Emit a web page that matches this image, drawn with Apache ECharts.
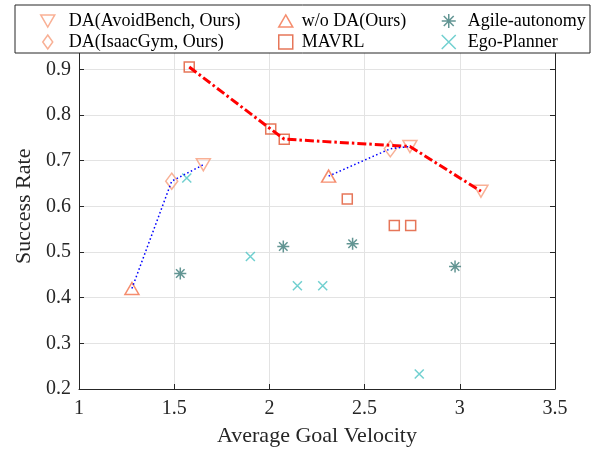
<!DOCTYPE html>
<html><head><meta charset="utf-8">
<script src="https://cdn.jsdelivr.net/npm/echarts@6/dist/echarts.min.js"></script>
<style>html,body{margin:0;padding:0;background:#fff}#c{width:595px;height:452px}</style>
</head><body><div id="c"></div>
<script>
// ---- data ----
const xTickLabels = ['1', '1.5', '2', '2.5', '3', '3.5'];
const yTickLabels = ['0.2', '0.3', '0.4', '0.5', '0.6', '0.7', '0.8', '0.9', '1'];
const seriesNames = ['DA(AvoidBench, Ours)', 'DA(IsaacGym, Ours)', 'w/o DA(Ours)', 'MAVRL', 'Agile-autonomy', 'Ego-Planner'];
const daAvoidBench = [[1.653, 0.691], [2.738, 0.731], [3.111, 0.633]];
const daIsaacGym = [[1.487, 0.655], [2.635, 0.726]];
const woDA = [[1.278, 0.420], [2.311, 0.666]];
const mavrl = [[1.579, 0.905], [2.007, 0.769], [2.078, 0.747], [2.409, 0.616], [2.656, 0.558], [2.742, 0.558]];
const agile = [[1.532, 0.453], [2.073, 0.512], [2.437, 0.518], [2.975, 0.468]];
const ego = [[1.566, 0.662], [1.900, 0.490], [2.147, 0.426], [2.280, 0.426], [2.787, 0.233]];
const frontierRed = [[1.579, 0.905], [2.007, 0.769], [2.078, 0.747], [2.738, 0.731], [3.111, 0.633]];
const linkBlue1 = [[1.278, 0.420], [1.487, 0.655], [1.653, 0.691]];
const linkBlue2 = [[2.311, 0.666], [2.635, 0.726], [2.738, 0.731]];

// ---- chart ----
const FONT = "'Liberation Serif', 'DejaVu Serif', serif";
const AX = '#262626';
const xMin = +xTickLabels[0], xMax = +xTickLabels[xTickLabels.length - 1];
const yMin = +yTickLabels[0], yMax = +yTickLabels[yTickLabels.length - 1];

const INVTRI = 'path://M0,0L12,0L6,10.4Z';
const TRI = 'path://M6,0L12,10.4L0,10.4Z';
const DIAM = 'path://M5,0L10,7L5,14L0,7Z';
const ASTER = 'path://M5,0L5,10M0,5L10,5M1.46,1.46L8.54,8.54M8.54,1.46L1.46,8.54';
const CROSS = 'path://M0,0L10,10M10,0L0,10';

function hollow(color, bw) {
  return { color: 'rgba(0,0,0,0)', borderColor: color, borderWidth: bw || 1.5 };
}

const scatterDefs = [
  { name: seriesNames[0], data: daAvoidBench, symbol: INVTRI, size: [14, 12], color: '#f89c7a' },
  { name: seriesNames[1], data: daIsaacGym, symbol: DIAM, size: [12, 16], color: '#f69c7a' },
  { name: seriesNames[2], data: woDA, symbol: TRI, size: [14, 12], color: '#f3714a' },
  { name: seriesNames[3], data: mavrl, symbol: 'rect', size: 10, color: '#e0542f' },
  { name: seriesNames[4], data: agile, symbol: ASTER, size: 12, color: '#3b7a78' },
  { name: seriesNames[5], data: ego, symbol: CROSS, size: 9, color: '#4dc4c4' }
];

const series = [];
scatterDefs.forEach(d => {
  series.push({
    type: 'scatter', name: d.name, data: d.data,
    symbol: d.symbol, symbolSize: d.size, symbolKeepAspect: false,
    itemStyle: hollow(d.color, 1.5), z: 3, silent: true
  });
});
series.push({ type: 'line', name: 'frontier', data: frontierRed, symbol: 'none', z: 4, silent: true,
  lineStyle: { color: '#ff0000', width: 3, type: [9, 3, 2.5, 3] } });
series.push({ type: 'line', name: 'link1', data: linkBlue1, symbol: 'none', z: 4, silent: true,
  lineStyle: { color: '#0000ff', width: 1.5, type: [1.5, 2.5] } });
series.push({ type: 'line', name: 'link2', data: linkBlue2, symbol: 'none', z: 4, silent: true,
  lineStyle: { color: '#0000ff', width: 1.5, type: [1.5, 2.5] } });

function legendCol(names, left, padLeft) {
  return {
    orient: 'vertical', left: left, top: 7, itemWidth: 14, itemHeight: 14, itemGap: 3,
    z: 11, selectedMode: false, data: names, symbolKeepAspect: true,
    itemStyle: { borderWidth: 1.5 },
    textStyle: { fontFamily: FONT, fontSize: 18, color: '#000', padding: [0, 0, 0, padLeft] }
  };
}

const chart = echarts.init(document.getElementById('c'), null, { renderer: 'canvas' });
chart.setOption({
  animation: false,
  backgroundColor: '#fff',
  grid: { left: 79, right: 40, top: 23.6, bottom: 62, containLabel: false },
  graphic: [{
    type: 'rect', z: 10, shape: { x: 15, y: 5, width: 575, height: 48 },
    style: { fill: '#fff', stroke: AX, lineWidth: 1 }
  }],
  legend: [
    legendCol([seriesNames[0], seriesNames[1]], 35, 9),
    legendCol([seriesNames[2], seriesNames[3]], 273, 4),
    legendCol([seriesNames[4], seriesNames[5]], 436, 7)
  ],
  xAxis: [{
    type: 'value', min: xMin, max: xMax, interval: 0.5,
    name: 'Average Goal Velocity', nameLocation: 'middle', nameGap: 36,
    nameTextStyle: { fontFamily: FONT, fontSize: 22, color: AX },
    axisLine: { show: true, lineStyle: { color: AX, width: 1 } },
    axisTick: { show: true, inside: true, length: 5, lineStyle: { color: AX } },
    axisLabel: { fontFamily: FONT, fontSize: 20, color: AX, margin: 10,
      formatter: v => { const s = xTickLabels.find(t => Math.abs(+t - v) < 1e-6); return s || ''; } },
    splitLine: { show: true, lineStyle: { color: '#e3e3e3', width: 1 } }
  }],
  yAxis: [{
    type: 'value', min: yMin, max: yMax, interval: 0.1,
    name: 'Success Rate', nameLocation: 'middle', nameGap: 38,
    nameTextStyle: { fontFamily: FONT, fontSize: 22, color: AX },
    axisLine: { show: true, lineStyle: { color: AX, width: 1 } },
    axisTick: { show: true, inside: true, length: 5, lineStyle: { color: AX } },
    axisLabel: { fontFamily: FONT, fontSize: 20, color: AX, margin: 8,
      formatter: v => { const s = yTickLabels.find(t => Math.abs(+t - v) < 1e-6); return s || ''; } },
    splitLine: { show: true, lineStyle: { color: '#e3e3e3', width: 1 } }
  }, {
    type: 'value', position: 'right', min: yMin, max: yMax, interval: 0.1,
    axisLine: { show: true, onZero: false, lineStyle: { color: AX, width: 1 } },
    axisTick: { show: true, inside: true, length: 5, lineStyle: { color: AX } },
    axisLabel: { show: false }, splitLine: { show: false }
  }],
  series: series
});
</script>
</body></html>
